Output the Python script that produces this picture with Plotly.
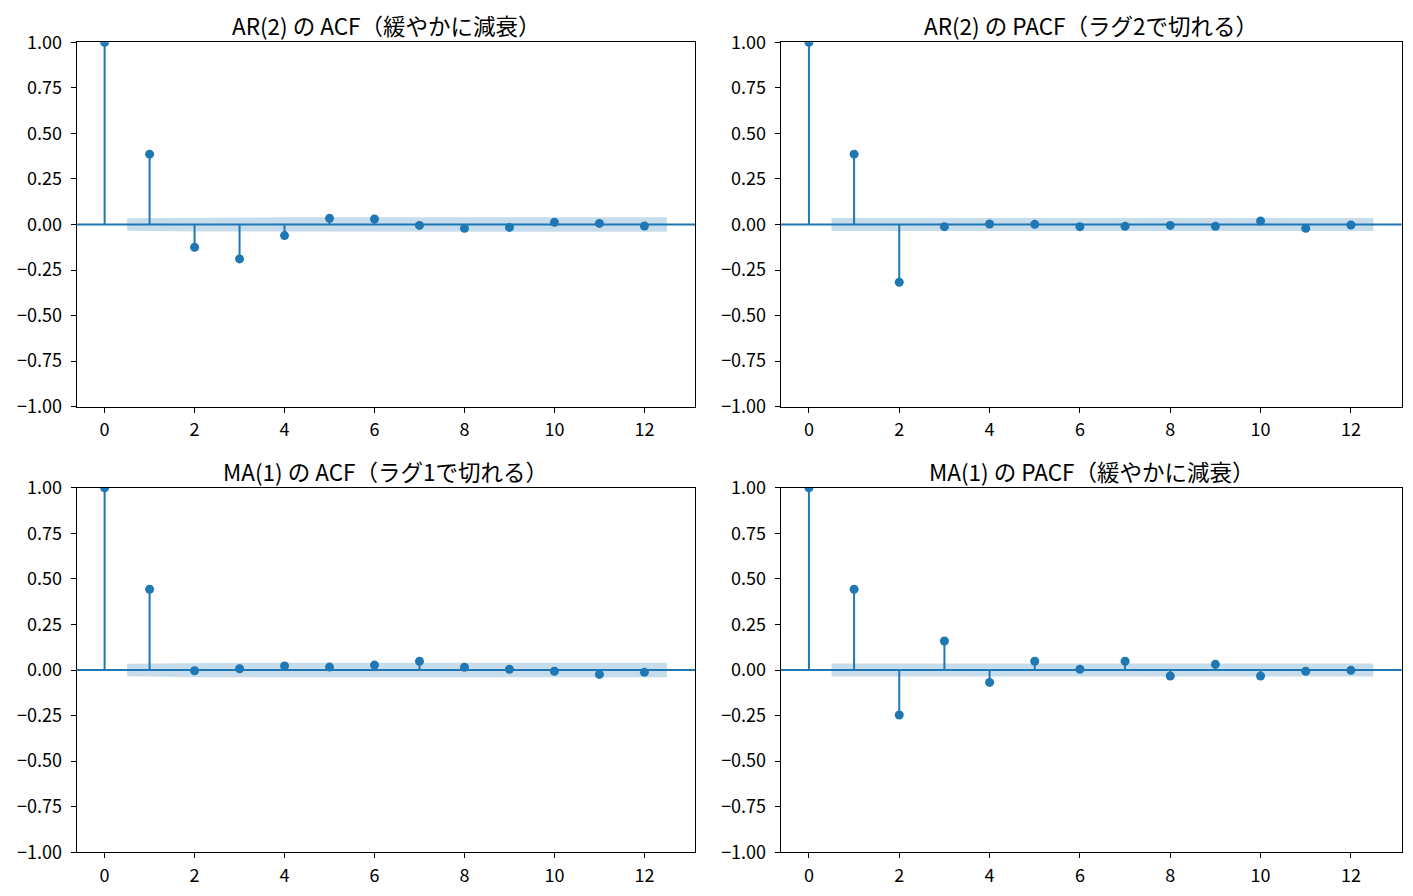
import plotly.graph_objects as go

lags = list(range(13))

titles = [
    "AR(2) の ACF（緩やかに減衰）",
    "AR(2) の PACF（ラグ2で切れる）",
    "MA(1) の ACF（ラグ1で切れる）",
    "MA(1) の PACF（緩やかに減衰）",
]

ar2_acf = [1.0, 0.386, -0.125, -0.189, -0.061, 0.034, 0.030, -0.005, -0.021, -0.016, 0.012, 0.006, -0.008]
ar2_pacf = [1.0, 0.386, -0.317, -0.012, 0.003, 0.001, -0.012, -0.010, -0.005, -0.010, 0.019, -0.021, -0.003]
ma1_acf = [1.0, 0.443, -0.004, 0.007, 0.022, 0.016, 0.027, 0.048, 0.015, 0.004, -0.007, -0.024, -0.013]
ma1_pacf = [1.0, 0.443, -0.247, 0.159, -0.068, 0.048, 0.004, 0.048, -0.033, 0.031, -0.033, -0.007, -0.002]

# half-width of the confidence band for lags 1..12
ar2_acf_band = [0.034, 0.038, 0.039, 0.040, 0.040, 0.040, 0.040, 0.040, 0.040, 0.040, 0.040, 0.040]
ar2_pacf_band = [0.035] * 12
ma1_acf_band = [0.034, 0.040, 0.040, 0.040, 0.040, 0.040, 0.040, 0.040, 0.040, 0.040, 0.040, 0.040]
ma1_pacf_band = [0.035] * 12

series = [ar2_acf, ar2_pacf, ma1_acf, ma1_pacf]
bands = [ar2_acf_band, ar2_pacf_band, ma1_acf_band, ma1_pacf_band]

BLUE = "#1f77b4"
W, H = 1413, 896
OFF = 8  # page body margin
xdoms = [((76.5 - OFF) / W, (695 - OFF) / W), ((780.7 - OFF) / W, (1401.7 - OFF) / W)]
ydoms = [(1 - (406.7 - OFF) / H, 1 - (42.3 - OFF) / H),
         (1 - (852.3 - OFF) / H, 1 - (487.7 - OFF) / H)]
FONT = "Noto Sans CJK JP, Noto Sans, DejaVu Sans, sans-serif"

fig = go.Figure()
annotations = []
shapes = []
layout_axes = {}

for i, (vals, band) in enumerate(zip(series, bands)):
    r, c = divmod(i, 2)
    n = i + 1
    xa = "x" if n == 1 else f"x{n}"
    ya = "y" if n == 1 else f"y{n}"
    xkey = "xaxis" if n == 1 else f"xaxis{n}"
    ykey = "yaxis" if n == 1 else f"yaxis{n}"

    # confidence band
    bx = [float(l) for l in lags[1:]]
    bx[0] -= 0.5
    bx[-1] += 0.5
    fig.add_trace(go.Scatter(
        x=bx + bx[::-1],
        y=band + [-b for b in band[::-1]],
        fill="toself", fillcolor="rgba(31,119,180,0.25)",
        line=dict(width=0), mode="lines", hoverinfo="skip",
        xaxis=xa, yaxis=ya, showlegend=False))

    # stems
    sx, sy = [], []
    for l, v in zip(lags, vals):
        sx += [l, l, None]
        sy += [0, v, None]
    fig.add_trace(go.Scatter(x=sx, y=sy, mode="lines",
                             line=dict(color=BLUE, width=2),
                             xaxis=xa, yaxis=ya, showlegend=False))
    # markers
    fig.add_trace(go.Scatter(x=lags, y=vals, mode="markers",
                             marker=dict(color=BLUE, size=9),
                             xaxis=xa, yaxis=ya, showlegend=False))

    # zero line across axes
    shapes.append(dict(type="line", xref=f"{xa} domain", yref=ya,
                       x0=0, x1=1, y0=0, y1=0,
                       line=dict(color=BLUE, width=2)))

    axis_common = dict(showline=True, mirror=True, linecolor="black", linewidth=1,
                       ticks="outside", ticklen=5, tickcolor="black", tickwidth=1,
                       showgrid=False, zeroline=False, automargin=False,
                       tickfont=dict(family=FONT, size=18, color="black"))
    layout_axes[xkey] = dict(domain=list(xdoms[c]), range=[-0.625, 13.125],
                             tickmode="array", tickvals=[0, 2, 4, 6, 8, 10, 12],
                             ticklabelstandoff=2, anchor=ya, **axis_common)
    layout_axes[ykey] = dict(domain=list(ydoms[r]), range=[-1, 1],
                             tickmode="array",
                             tickvals=[-1, -0.75, -0.5, -0.25, 0, 0.25, 0.5, 0.75, 1],
                             tickformat=".2f", ticklabelstandoff=5,
                             anchor=xa, **axis_common)

    annotations.append(dict(text=titles[i], xref="paper", yref="paper",
                            x=(xdoms[c][0] + xdoms[c][1]) / 2, y=ydoms[r][1],
                            xanchor="center", yanchor="bottom", yshift=0,
                            borderpad=0, showarrow=False,
                            font=dict(family=FONT, size=22.5, color="black")))

fig.update_layout(width=W, height=H, margin=dict(l=0, r=0, t=0, b=0),
                  paper_bgcolor="white", plot_bgcolor="white",
                  annotations=annotations, shapes=shapes,
                  font=dict(family=FONT), **layout_axes)

fig.write_html("out.html")
